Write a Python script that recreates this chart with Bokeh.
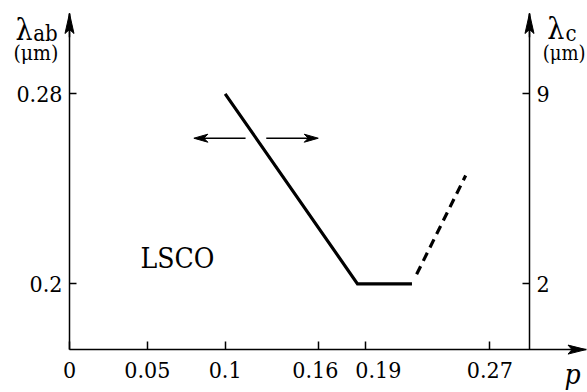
from bokeh.plotting import figure
from bokeh.models import Range1d, LinearAxis, FixedTicker, Label
from bokeh.embed import file_html
from bokeh.resources import INLINE

# ---- data ----
p_ticks = [0, 0.05, 0.1, 0.16, 0.19, 0.27]
p_tick_labels = ["0", "0.05", "0.1", "0.16\u00a0", "\u00a0\u00a0\u00a0\u00a00.19", "0.27"]
lab_ticks = [0.2, 0.28]
lab_tick_labels = ["0.2", "0.28"]
lc_ticks = [2, 9]
lc_tick_labels = ["2", "9"]

p_solid = [0.10, 0.185, 0.22]
lab_solid = [0.28, 0.20, 0.20]
p_dash = [0.223, 0.2545]
lab_dash = [0.204, 0.2456]

arrow_lab = 0.2613
arrow_left = [0.1131, 0.0799]   # start, tip
arrow_right = [0.1264, 0.1598]  # start, tip

# ---- layout constants ----
W, H = 587, 392
X_START, X_END = -0.04432, 0.33276
Y_START, Y_END = 0.15423, 0.31928
P_RIGHT_AXIS = 0.2955
LAB_X_AXIS = 0.1723
LAB_TIP = 0.3138
P_TIP = 0.3318
SX = W / (X_END - X_START)
SY = H / (Y_END - Y_START)


def to_lc(v):
    return lc_ticks[0] + (v - lab_ticks[0]) * (lc_ticks[1] - lc_ticks[0]) / (lab_ticks[1] - lab_ticks[0])


FONT = "DejaVu Serif Condensed, DejaVu Serif"

p = figure(width=W, height=H, x_range=Range1d(X_START, X_END), y_range=Range1d(Y_START, Y_END),
           x_axis_location=None, y_axis_location=None, output_backend="svg",
           toolbar_location=None, min_border=0, outline_line_color=None,
           background_fill_color="white", border_fill_color="white")
p.grid.visible = False
p.extra_y_ranges = {"lc": Range1d(to_lc(Y_START), to_lc(Y_END))}


def style_axis(ax, tick_in):
    ax.major_tick_in = tick_in
    ax.major_tick_out = 0
    ax.minor_tick_line_color = None
    ax.axis_line_width = 1.5
    ax.major_tick_line_width = 1.5
    ax.axis_line_color = "black"
    ax.major_tick_line_color = "black"
    ax.major_label_text_font = FONT
    ax.major_label_text_font_size = "23px"
    ax.major_label_text_color = "black"


xaxis = LinearAxis(ticker=FixedTicker(ticks=p_ticks), fixed_location=LAB_X_AXIS, bounds=(0, P_TIP),
                   major_label_overrides={t: l for t, l in zip(p_ticks, p_tick_labels)})
style_axis(xaxis, 8)
xaxis.major_label_standoff = 7
p.add_layout(xaxis, "below")

yaxis = LinearAxis(ticker=FixedTicker(ticks=lab_ticks), fixed_location=0, bounds=(LAB_X_AXIS, LAB_TIP),
                   major_label_overrides={t: l for t, l in zip(lab_ticks, lab_tick_labels)})
style_axis(yaxis, 7)
yaxis.major_label_standoff = 7
p.add_layout(yaxis, "left")

raxis = LinearAxis(y_range_name="lc", ticker=FixedTicker(ticks=lc_ticks), fixed_location=P_RIGHT_AXIS,
                   bounds=(to_lc(LAB_X_AXIS), to_lc(LAB_TIP)),
                   major_label_overrides={t: l for t, l in zip(lc_ticks, lc_tick_labels)})
style_axis(raxis, 7)
raxis.major_label_standoff = 7
p.add_layout(raxis, "right")

# ---- curve ----
p.line(p_solid, lab_solid, line_width=3.2, line_color="black", line_join="miter")
p.line(p_dash, lab_dash, line_width=3.2, line_color="black", line_dash="9 6", line_cap="butt")


# ---- arrow heads (pixel-shaped, placed in data space) ----
def head(tx, ty, dx, dy, length, width, notch):
    px, py = -dy, dx
    bx = tx - dx * length / SX
    by = ty - dy * length / SY
    nx = tx - dx * (length - notch) / SX
    ny = ty - dy * (length - notch) / SY
    xs = [tx, bx + px * width / 2 / SX, nx, bx - px * width / 2 / SX]
    ys = [ty, by + py * width / 2 / SY, ny, by - py * width / 2 / SY]
    return xs, ys


heads = [
    head(0, LAB_TIP, 0, 1, 20, 9, 4),
    head(P_RIGHT_AXIS, LAB_TIP, 0, 1, 20, 9, 4),
    head(P_TIP, LAB_X_AXIS, 1, 0, 18, 9, 4),
    head(arrow_left[1], arrow_lab, -1, 0, 14, 8, 4),
    head(arrow_right[1], arrow_lab, 1, 0, 14, 8, 4),
]
p.patches([h[0] for h in heads], [h[1] for h in heads], fill_color="black", line_color="black", line_width=1)

p.segment(x0=[0, P_RIGHT_AXIS], y0=[LAB_TIP - 0.01, LAB_TIP - 0.01], x1=[0, P_RIGHT_AXIS], y1=[LAB_TIP, LAB_TIP],
          line_width=1.5, line_color="black")

p.segment(x0=[arrow_left[0], arrow_right[0]], y0=[arrow_lab, arrow_lab],
          x1=[arrow_left[1] + 8 / SX, arrow_right[1] - 8 / SX], y1=[arrow_lab, arrow_lab],
          line_width=1.5, line_color="black")


# ---- texts ----
def lab(x, y, text, size, style="normal"):
    p.add_layout(Label(x=x, y=y, text=text, text_font=FONT, text_font_size=size,
                       text_font_style=style, text_baseline="alphabetic", text_align="left",
                       text_color="black"))


lab(-0.0347, 0.3071, "λ", "30px")
lab(-0.0233, 0.3054, "ab", "22px")
lab(-0.0360, 0.2970, "(μm)", "21px")
lab(0.3069, 0.3075, "λ", "30px")
lab(0.3186, 0.3054, "c", "22px")
lab(0.3040, 0.2970, "(μm)", "20px")
lab(0.0456, 0.2105, "LSCO", "28px")
lab(0.3180, 0.1620, "p", "28px", "italic")

open("out.html", "w").write(file_html(p, INLINE))
